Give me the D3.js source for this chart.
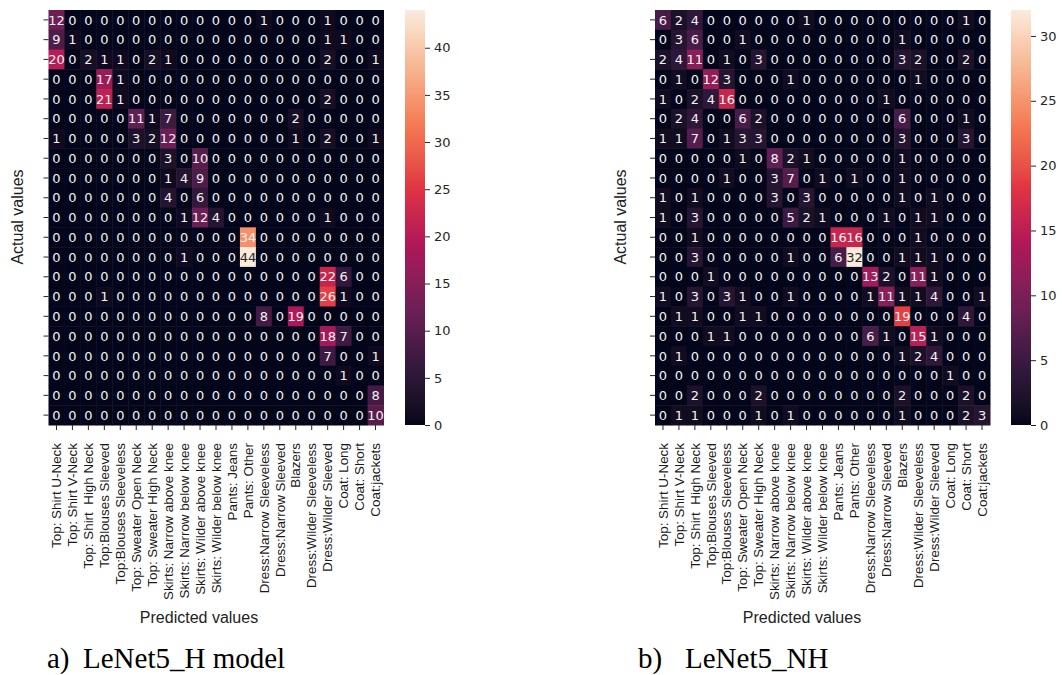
<!DOCTYPE html>
<html>
<head>
<meta charset="utf-8">
<script src="https://cdn.jsdelivr.net/npm/d3@7"></script>
<style>
  body { margin: 0; background: #fff; }
  svg { display: block; }
</style>
</head>
<body>
<svg id="chart" width="1062" height="675"></svg>
<script>
// class names (same for rows and columns)
var classes = ["Top: Shirt U-Neck", "Top: Shirt V-Neck", "Top: Shirt  High Neck", "Top:Blouses Sleeved",
  "Top:Blouses Sleeveless", "Top: Sweater Open Neck", "Top: Sweater High Neck", "Skirts: Narrow above knee",
  "Skirts: Narrow below knee", "Skirts: Wilder above knee", "Skirts: Wilder below knee", "Pants: Jeans",
  "Pants: Other", "Dress:Narrow Sleeveless", "Dress:Narrow Sleeved", "Blazers", "Dress:Wilder Sleeveless",
  "Dress:Wilder Sleeved", "Coat: Long", "Coat: Short", "Coat:jackets"];

// a) LeNet5_H model
var matrixH = [
  [12,0,0,0,0,0,0,0,0,0,0,0,0,1,0,0,0,1,0,0,0],
  [9,1,0,0,0,0,0,0,0,0,0,0,0,0,0,0,0,1,1,0,0],
  [20,0,2,1,1,0,2,1,0,0,0,0,0,0,0,0,0,2,0,0,1],
  [0,0,0,17,1,0,0,0,0,0,0,0,0,0,0,0,0,0,0,0,0],
  [0,0,0,21,1,0,0,0,0,0,0,0,0,0,0,0,0,2,0,0,0],
  [0,0,0,0,0,11,1,7,0,0,0,0,0,0,0,2,0,0,0,0,0],
  [1,0,0,0,0,3,2,12,0,0,0,0,0,0,0,1,0,2,0,0,1],
  [0,0,0,0,0,0,0,3,0,10,0,0,0,0,0,0,0,0,0,0,0],
  [0,0,0,0,0,0,0,1,4,9,0,0,0,0,0,0,0,0,0,0,0],
  [0,0,0,0,0,0,0,4,0,6,0,0,0,0,0,0,0,0,0,0,0],
  [0,0,0,0,0,0,0,0,1,12,4,0,0,0,0,0,0,1,0,0,0],
  [0,0,0,0,0,0,0,0,0,0,0,0,34,0,0,0,0,0,0,0,0],
  [0,0,0,0,0,0,0,0,1,0,0,0,44,0,0,0,0,0,0,0,0],
  [0,0,0,0,0,0,0,0,0,0,0,0,0,0,0,0,0,22,6,0,0],
  [0,0,0,1,0,0,0,0,0,0,0,0,0,0,0,0,0,26,1,0,0],
  [0,0,0,0,0,0,0,0,0,0,0,0,0,8,0,19,0,0,0,0,0],
  [0,0,0,0,0,0,0,0,0,0,0,0,0,0,0,0,0,18,7,0,0],
  [0,0,0,0,0,0,0,0,0,0,0,0,0,0,0,0,0,7,0,0,1],
  [0,0,0,0,0,0,0,0,0,0,0,0,0,0,0,0,0,0,1,0,0],
  [0,0,0,0,0,0,0,0,0,0,0,0,0,0,0,0,0,0,0,0,8],
  [0,0,0,0,0,0,0,0,0,0,0,0,0,0,0,0,0,0,0,0,10]
];

// b) LeNet5_NH
var matrixNH = [
  [6,2,4,0,0,0,0,0,0,1,0,0,0,0,0,0,0,0,0,1,0],
  [0,3,6,0,0,1,0,0,0,0,0,0,0,0,0,1,0,0,0,0,0],
  [2,4,11,0,1,0,3,0,0,0,0,0,0,0,0,3,2,0,0,2,0],
  [0,1,0,12,3,0,0,0,1,0,0,0,0,0,0,0,1,0,0,0,0],
  [1,0,2,4,16,0,0,0,0,0,0,0,0,0,1,0,0,0,0,0,0],
  [0,2,4,0,0,6,2,0,0,0,0,0,0,0,0,6,0,0,0,1,0],
  [1,1,7,0,1,3,3,0,0,0,0,0,0,0,0,3,0,0,0,3,0],
  [0,0,0,0,0,1,0,8,2,1,0,0,0,0,0,1,0,0,0,0,0],
  [0,0,0,0,1,0,0,3,7,0,1,0,1,0,0,1,0,0,0,0,0],
  [1,0,1,0,0,0,0,3,0,3,0,0,0,0,0,1,0,1,0,0,0],
  [1,0,3,0,0,0,0,0,5,2,1,0,0,0,1,0,1,1,0,0,0],
  [0,0,1,0,0,0,0,0,0,0,0,16,16,0,0,0,1,0,0,0,0],
  [0,0,3,0,0,0,0,0,1,0,0,6,32,0,0,1,1,1,0,0,0],
  [0,0,0,1,0,0,0,0,0,0,0,0,0,13,2,0,11,1,0,0,0],
  [1,0,3,0,3,1,0,0,1,0,0,0,0,1,11,1,1,4,0,0,1],
  [0,1,1,0,0,1,1,0,0,0,0,0,0,0,0,19,0,0,0,4,0],
  [0,0,0,1,1,0,0,0,0,0,0,0,0,6,1,0,15,1,0,0,0],
  [0,1,0,0,0,0,0,0,0,0,0,0,0,0,0,1,2,4,0,0,0],
  [0,0,0,0,0,0,0,0,0,0,0,0,0,0,0,0,0,0,1,0,0],
  [0,0,2,0,0,0,2,0,0,0,0,0,0,0,0,2,0,0,0,2,0],
  [0,1,1,0,0,0,1,0,1,0,0,0,0,0,0,1,0,0,0,2,3]
];

var ticksH = [0, 5, 10, 15, 20, 25, 30, 35, 40];
var ticksNH = [0, 5, 10, 15, 20, 25, 30];

// approximation of seaborn "rocket"
var rocketStops = ["#03051a", "#35193e", "#701f57", "#ad1759", "#e13342", "#f37651", "#f6b48f", "#faebdd"];
var rocket = d3.scaleLinear()
  .domain(d3.range(rocketStops.length).map(function(i) { return i / (rocketStops.length - 1); }))
  .range(rocketStops)
  .interpolate(d3.interpolateLab)
  .clamp(true);

function luminance(c) {
  var rgb = d3.rgb(c);
  var f = function(v) { v /= 255; return v <= 0.03928 ? v / 12.92 : Math.pow((v + 0.055) / 1.055, 2.4); };
  return 0.2126 * f(rgb.r) + 0.7152 * f(rgb.g) + 0.0722 * f(rgb.b);
}

var svg = d3.select("#chart");
var defs = svg.append("defs");

function drawPanel(opts) {
  var matrix = opts.matrix;
  var vmax = d3.max(matrix, function(r) { return d3.max(r); });
  var x = d3.scaleBand().domain(d3.range(classes.length)).range([opts.left, opts.left + 335]);
  var y = d3.scaleBand().domain(d3.range(classes.length)).range([10, 425]);
  var color = function(v) { return rocket(v / vmax); };

  var cells = [];
  matrix.forEach(function(row, i) {
    row.forEach(function(v, j) { cells.push({ r: i, c: j, v: v }); });
  });

  var g = svg.append("g");
  g.selectAll("rect.cell")
    .data(cells)
    .enter()
    .append("rect")
    .attr("class", "cell")
    .attr("x", function(d) { return x(d.c); })
    .attr("y", function(d) { return y(d.r); })
    .attr("width", x.bandwidth() + 0.5)
    .attr("height", y.bandwidth() + 0.5)
    .attr("fill", function(d) { return color(d.v); });

  g.selectAll("text.val")
    .data(cells)
    .enter()
    .append("text")
    .attr("class", "val")
    .attr("x", function(d) { return x(d.c) + x.bandwidth() / 2; })
    .attr("y", function(d) { return y(d.r) + y.bandwidth() / 2; })
    .attr("dy", "0.36em")
    .attr("text-anchor", "middle")
    .attr("font-family", "DejaVu Sans")
    .attr("font-size", 13)
    .attr("fill", function(d) { return luminance(color(d.v)) > 0.408 ? "#262626" : "#f2f2f2"; })
    .text(function(d) { return d.v; });

  // y ticks (no labels)
  var yAxis = svg.append("g")
    .attr("transform", "translate(" + opts.left + ",0)")
    .call(d3.axisLeft(y).tickSize(5).tickFormat(""));
  yAxis.select(".domain").remove();
  yAxis.selectAll("line").attr("stroke", "#262626");

  // x ticks with rotated labels
  var xAxis = svg.append("g")
    .attr("transform", "translate(0,425)")
    .call(d3.axisBottom(x).tickSize(5).tickFormat(function(i) { return classes[i]; }));
  xAxis.select(".domain").remove();
  xAxis.selectAll("line").attr("stroke", "#262626");
  xAxis.selectAll("text")
    .attr("font-family", "Liberation Sans")
    .attr("font-size", 13.4)
    .attr("fill", "#1a1a1a")
    .attr("text-anchor", "end")
    .attr("transform", "rotate(-90)")
    .attr("x", -18)
    .attr("y", 0)
    .attr("dy", "0.35em")
    .style("white-space", "pre");

  // axis titles
  svg.append("text")
    .attr("x", opts.xTitle)
    .attr("y", 623)
    .attr("text-anchor", "middle")
    .attr("font-family", "Liberation Sans")
    .attr("font-size", 16)
    .attr("fill", "#222")
    .text("Predicted values");
  svg.append("text")
    .attr("transform", "translate(" + opts.yTitle + ",217) rotate(-90)")
    .attr("text-anchor", "middle")
    .attr("font-family", "Liberation Sans")
    .attr("font-size", 16)
    .attr("fill", "#222")
    .text("Actual values");

  // colorbar
  var cb = d3.scaleLinear().domain([0, vmax]).range([425, 10]);
  var gradId = "grad" + opts.id;
  var grad = defs.append("linearGradient")
    .attr("id", gradId)
    .attr("x1", 0).attr("y1", 1).attr("x2", 0).attr("y2", 0);
  grad.selectAll("stop")
    .data(d3.range(0, 1.0001, 0.02))
    .enter()
    .append("stop")
    .attr("offset", function(t) { return t; })
    .attr("stop-color", function(t) { return rocket(t); });
  svg.append("rect")
    .attr("x", opts.cbLeft)
    .attr("y", 10)
    .attr("width", 20)
    .attr("height", 415)
    .attr("fill", "url(#" + gradId + ")");
  var cbAxis = svg.append("g")
    .attr("transform", "translate(" + (opts.cbLeft + 20) + ",0)")
    .call(d3.axisRight(cb).tickValues(opts.ticks).tickSize(5).tickPadding(4));
  cbAxis.select(".domain").remove();
  cbAxis.selectAll("line").attr("stroke", "#262626");
  cbAxis.selectAll("text")
    .attr("font-family", "DejaVu Sans")
    .attr("font-size", 13)
    .attr("fill", "#262626");

  // caption
  svg.append("text")
    .attr("x", opts.capX)
    .attr("y", 668)
    .attr("font-family", "Liberation Serif")
    .attr("font-size", 29)
    .attr("fill", "#000")
    .text(opts.capA);
  svg.append("text")
    .attr("x", opts.capX2)
    .attr("y", 668)
    .attr("font-family", "Liberation Serif")
    .attr("font-size", 29)
    .attr("fill", "#000")
    .text(opts.capB);
}

drawPanel({ id: "H", matrix: matrixH, left: 48.5, ticks: ticksH, cbLeft: 405,
  xTitle: 199, yTitle: 23, capX: 47, capX2: 83, capA: "a)", capB: "LeNet5_H model" });
drawPanel({ id: "NH", matrix: matrixNH, left: 655, ticks: ticksNH, cbLeft: 1011,
  xTitle: 802, yTitle: 626, capX: 638, capX2: 685, capA: "b)", capB: "LeNet5_NH" });
</script>
</body>
</html>
